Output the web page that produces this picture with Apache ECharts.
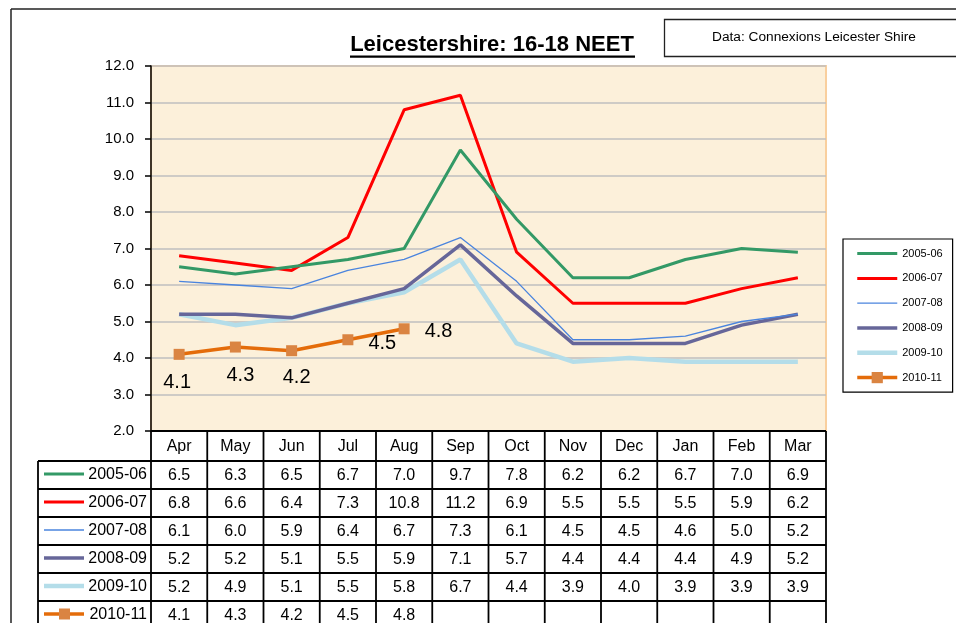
<!DOCTYPE html>
<html>
<head>
<meta charset="utf-8">
<script src="https://cdn.jsdelivr.net/npm/echarts@6/dist/echarts.min.js"></script>
<style>
html,body{margin:0;padding:0;background:#fff;}
#main{width:956px;height:623px;}
</style>
</head>
<body>
<div id="main"></div>
<script>
// ---- data ----
const months = ['Apr','May','Jun','Jul','Aug','Sep','Oct','Nov','Dec','Jan','Feb','Mar'];
const seriesNames = ['2005-06','2006-07','2007-08','2008-09','2009-10','2010-11'];
const s2005 = [6.5,6.3,6.5,6.7,7.0,9.7,7.8,6.2,6.2,6.7,7.0,6.9];
const s2006 = [6.8,6.6,6.4,7.3,10.8,11.2,6.9,5.5,5.5,5.5,5.9,6.2];
const s2007 = [6.1,6.0,5.9,6.4,6.7,7.3,6.1,4.5,4.5,4.6,5.0,5.2];
const s2008 = [5.2,5.2,5.1,5.5,5.9,7.1,5.7,4.4,4.4,4.4,4.9,5.2];
const s2009 = [5.2,4.9,5.1,5.5,5.8,6.7,4.4,3.9,4.0,3.9,3.9,3.9];
const s2010 = [4.1,4.3,4.2,4.5,4.8];
const yTicks = [2,3,4,5,6,7,8,9,10,11,12];
const titleText = 'Leicestershire: 16-18 NEET';
const sourceText = 'Data: Connexions Leicester Shire';

// ---- styles ----
const allData = [s2005,s2006,s2007,s2008,s2009,s2010];
const colors = ['#339966','#ff0000','#4a84de','#666699','#b4dde9','#e46c0a'];
const widths = [3,3,1.3,3.5,4.5,3.5];
const labelCfg = [
  {position:'bottom', distance:12, offset:[-2,1]},
  {position:'bottom', distance:12, offset:[5,1]},
  {position:'bottom', distance:10, offset:[5,1]},
  {position:'right', distance:15, offset:[0,4]},
  {position:'right', distance:15, offset:[0,3]}
];

const chart = echarts.init(document.getElementById('main'), null, {renderer:'canvas'});

const series = seriesNames.map((name,i)=>{
  const isLast = i === 5;
  return {
    name: name,
    type: 'line',
    data: isLast ? allData[i].map((v,j)=>({value:v, label:labelCfg[j]})) : allData[i],
    symbol: isLast ? 'rect' : 'none',
    symbolSize: 11,
    showSymbol: isLast,
    itemStyle: {color: isLast ? '#da8442' : colors[i]},
    lineStyle: {color: colors[i], width: widths[i]},
    label: isLast ? {show:true, fontSize:20, fontFamily:'Arial', color:'#000', formatter: p => p.value.toFixed(1)} : {show:false},
    emphasis: {disabled:true},
    animation: false,
    z: 10 - i
  };
});

const option = {
  animation: false,
  grid: {
    left: 151, top: 66, right: 130, bottom: 192,
    show: true,
    backgroundColor: '#fcf0da',
    borderColor: '#f9cf9e',
    borderWidth: 2
  },
  xAxis: {
    type: 'category',
    data: months,
    boundaryGap: true,
    axisLine: {show:false},
    axisTick: {show:false},
    axisLabel: {show:false},
    splitLine: {show:false}
  },
  yAxis: {
    type: 'value',
    min: yTicks[0], max: yTicks[yTicks.length-1], interval: 1,
    axisLine: {show:true, lineStyle:{color:'#000', width:1.5}},
    axisTick: {show:true, length:6, lineStyle:{color:'#000', width:1.5}},
    axisLabel: {color:'#000', fontSize:15, fontFamily:'Arial', margin:17, formatter: v => v.toFixed(1)},
    splitLine: {show:true, lineStyle:{color:'#bfbfbf', width:1.5}}
  },
  legend: {
    orient: 'vertical',
    left: 843, top: 239,
    data: seriesNames.map((n,i)=> i === 5
      ? {name:n, lineStyle:{width:widths[i], color:colors[i]}}
      : {name:n, itemStyle:{opacity:0}, lineStyle:{width:widths[i], color:colors[i]}}),
    itemWidth: 40, itemHeight: 14, itemGap: 13.6,
    padding: [9, 10, 9, 12],
    borderColor: '#000', borderWidth: 1.2,
    backgroundColor: '#fff',
    textStyle: {fontSize: 11, fontFamily: 'Arial', color: '#000'},
    selectedMode: false
  },
  series: series
};
chart.setOption(option);

// ---- build title, source box and data table ----
const g = [];
const blk = '#000';
// outer chart border
g.push({type:'line', shape:{x1:11,y1:9,x2:956,y2:9}, style:{stroke:'#222', lineWidth:1.5}, z:100});
g.push({type:'line', shape:{x1:11,y1:9,x2:11,y2:623}, style:{stroke:'#222', lineWidth:1.5}, z:100});
// title
g.push({type:'text', x:492, y:45, style:{text:titleText, font:'bold 22px Arial', fill:'#000', align:'center', verticalAlign:'middle'}, z:100});
g.push({type:'rect', shape:{x:350, y:55.5, width:285, height:2.2}, style:{fill:'#000'}, z:100});
// source box
g.push({type:'rect', shape:{x:664.5, y:19.5, width:300, height:37}, style:{fill:'#fff', stroke:'#222', lineWidth:1.3}, z:100});
g.push({type:'text', x:712, y:37, style:{text:sourceText, font:'13.7px Arial', fill:'#000', align:'left', verticalAlign:'middle'}, z:101});

const c0 = chart.convertToPixel({xAxisIndex:0}, 0);
const c1 = chart.convertToPixel({xAxisIndex:0}, 1);
const band = c1 - c0;
const xLeft = c0 - band/2;
const xRight = xLeft + band*months.length;
const yTop = chart.convertToPixel({yAxisIndex:0}, yTicks[0]);
const headerH = 30, rowH = 28;
const keyLeft = 38;
const rowsTop = yTop + headerH;
const tableBottom = rowsTop + rowH*seriesNames.length;
const lw = 1.8;
// header row
g.push({type:'line', shape:{x1:xLeft,y1:yTop,x2:xRight,y2:yTop}, style:{stroke:blk, lineWidth:lw}, z:50});
months.forEach((m,j)=>{
  const cx = c0 + band*j;
  g.push({type:'text', x:cx, y:yTop+headerH/2+1, style:{text:m, font:'16px Arial', fill:'#000', align:'center', verticalAlign:'middle'}, z:60});
});
// vertical lines
for (let j=0;j<=months.length;j++){
  const x = xLeft + band*j;
  g.push({type:'line', shape:{x1:x,y1:yTop,x2:x,y2:tableBottom}, style:{stroke:blk, lineWidth:lw}, z:50});
}
g.push({type:'line', shape:{x1:keyLeft,y1:rowsTop,x2:keyLeft,y2:tableBottom}, style:{stroke:blk, lineWidth:lw}, z:50});
// horizontal lines
for (let r=0;r<=seriesNames.length;r++){
  const y = rowsTop + rowH*r;
  g.push({type:'line', shape:{x1:keyLeft,y1:y,x2:xRight,y2:y}, style:{stroke:blk, lineWidth:lw}, z:50});
}
// row content
seriesNames.forEach((name,i)=>{
  const cy = rowsTop + rowH*i + rowH/2;
  g.push({type:'line', shape:{x1:44,y1:cy-1,x2:84,y2:cy-1}, style:{stroke:colors[i], lineWidth:widths[i]}, z:60});
  if (i === 5) {
    g.push({type:'rect', shape:{x:59,y:cy-6.5,width:11,height:11}, style:{fill:'#da8442'}, z:61});
  }
  g.push({type:'text', x:147, y:cy, style:{text:name, font:'16px Arial', fill:'#000', align:'right', verticalAlign:'middle'}, z:60});
  allData[i].forEach((v,j)=>{
    const cx = c0 + band*j;
    g.push({type:'text', x:cx, y:cy+1, style:{text:v.toFixed(1), font:'16px Arial', fill:'#000', align:'center', verticalAlign:'middle'}, z:60});
  });
});

chart.setOption({graphic: {elements: g}});
</script>
</body>
</html>
